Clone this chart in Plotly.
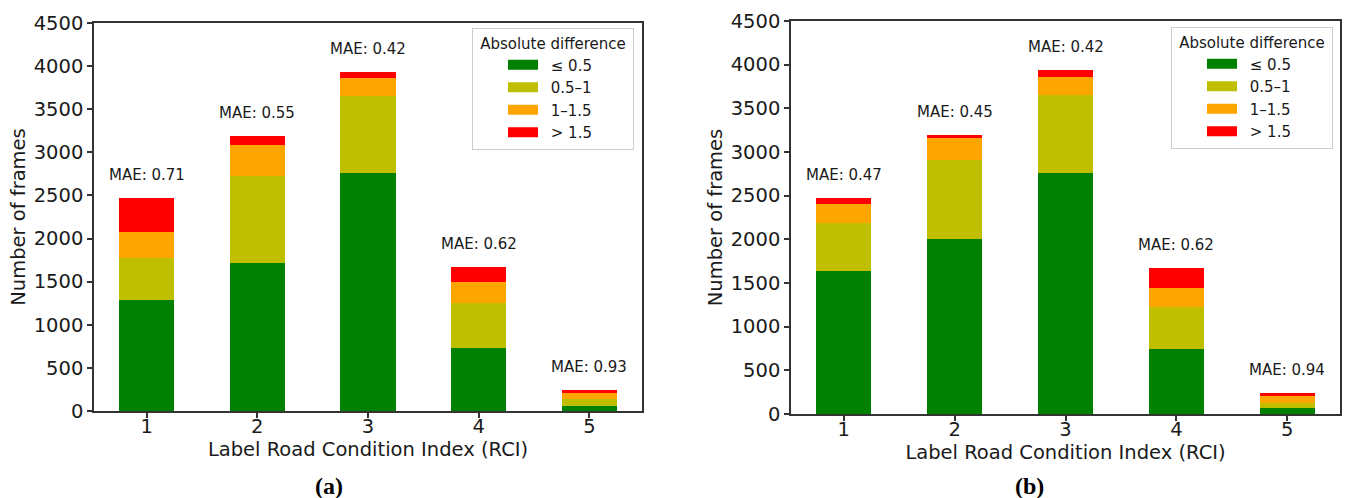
import plotly.graph_objects as go

# ---------------- data ----------------
categories = [1, 2, 3, 4, 5]
series_names = ["≤ 0.5", "0.5–1", "1–1.5", "> 1.5"]
colors = ["#008000", "#bfbf00", "#ffa500", "#ff0000"]

# panel (a): segment sizes per RCI class
a_le05 = [1290, 1720, 2755, 727, 54]
a_05_1 = [480, 1010, 900, 529, 85]
a_1_15 = [310, 360, 205, 244, 78]
a_gt15 = [390, 105, 75, 170, 23]
a_mae = ["0.71", "0.55", "0.42", "0.62", "0.93"]

# panel (b)
b_le05 = [1640, 2005, 2755, 748, 65]
b_05_1 = [545, 905, 900, 477, 65]
b_1_15 = [225, 250, 205, 221, 76]
b_gt15 = [65, 30, 80, 224, 34]
b_mae = ["0.47", "0.45", "0.42", "0.62", "0.94"]

yticks = [0, 500, 1000, 1500, 2000, 2500, 3000, 3500, 4000, 4500]

W, H = 1345, 498
FONT = "DejaVu Sans"
TXT = "#1a1a1a"

fig = go.Figure()

panels = [
    ("x", "y", "legend", [a_le05, a_05_1, a_1_15, a_gt15], a_mae),
    ("x2", "y2", "legend2", [b_le05, b_05_1, b_1_15, b_gt15], b_mae),
]

for xa, ya, lg, segs, mae in panels:
    for name, col, vals in zip(series_names, colors, segs):
        fig.add_trace(go.Bar(
            x=categories, y=vals, width=0.5, name=name,
            marker=dict(color=col, line=dict(width=0)),
            xaxis=xa, yaxis=ya, showlegend=False, hoverinfo="skip",
        ))
    # legend proxies (wide rectangle symbols, like matplotlib patches)
    for name, col in zip(series_names, colors):
        fig.add_trace(go.Scatter(
            x=[None], y=[None], mode="lines", name="\u00a0\u2009" + name,
            line=dict(color=col, width=10),
            xaxis=xa, yaxis=ya, legend=lg, showlegend=True,
        ))
    totals = [sum(v) for v in zip(*segs)]
    for c, t, m in zip(categories, totals, mae):
        fig.add_annotation(
            x=c, y=t, xref=xa, yref=ya, text=f"MAE: {m}",
            showarrow=False, yanchor="bottom", yshift=12,
            font=dict(family=FONT, size=15, color=TXT),
        )

axis_common = dict(
    showline=True, mirror=True, linecolor="#333", linewidth=1.5,
    ticks="outside", ticklen=5, tickwidth=1.5, tickcolor="#333",
    showgrid=False, zeroline=False, automargin=False,
    tickfont=dict(family=FONT, size=19.5, color=TXT),
)

legend_common = dict(
    xanchor="right", yanchor="top",
    bgcolor="white", bordercolor="#cccccc", borderwidth=1,
    font=dict(family=FONT, size=15, color=TXT),
    title=dict(text="&nbsp;Absolute difference&nbsp;", side="top center",
               font=dict(family=FONT, size=15, color=TXT)),
    itemwidth=30, tracegroupgap=0, traceorder="normal", indentation=30,
)

xtitle = dict(text="Label Road Condition Index (RCI)", standoff=4,
              font=dict(family=FONT, size=19.5, color=TXT))
ytitle = dict(text="Number of frames", standoff=3,
              font=dict(family=FONT, size=19.5, color=TXT))

fig.update_layout(
    width=W, height=H,
    margin=dict(l=0, r=0, t=0, b=0, autoexpand=False),
    paper_bgcolor="white", plot_bgcolor="white",
    barmode="stack",
    xaxis=dict(domain=[94 / W, 642 / W], range=[0.525, 5.475], tickvals=categories,
               title=xtitle, anchor="y", ticklabelstandoff=-8, **axis_common),
    yaxis=dict(domain=[1 - 411 / H, 1 - 23 / H], range=[0, 4500], tickvals=yticks,
               title=ytitle, anchor="x", **axis_common),
    xaxis2=dict(domain=[791 / W, 1340 / W], range=[0.525, 5.475], tickvals=categories,
                title=xtitle, anchor="y2", ticklabelstandoff=-8, **axis_common),
    yaxis2=dict(domain=[1 - 414 / H, 1 - 21 / H], range=[0, 4500], tickvals=yticks,
                title=ytitle, anchor="x2", **axis_common),
    legend=dict(x=634 / W, y=1 - 28 / H, **legend_common),
    legend2=dict(x=1333 / W, y=1 - 27 / H, **legend_common),
)

for txt, xc in [("(a)", 329), ("(b)", 1029)]:
    fig.add_annotation(
        x=xc / W, y=1 - 486 / H, xref="paper", yref="paper",
        text=f"<b>{txt}</b>", showarrow=False, xanchor="center", yanchor="middle",
        font=dict(family="Liberation Serif", size=24, color="black"),
    )

fig.write_html("out.html")
